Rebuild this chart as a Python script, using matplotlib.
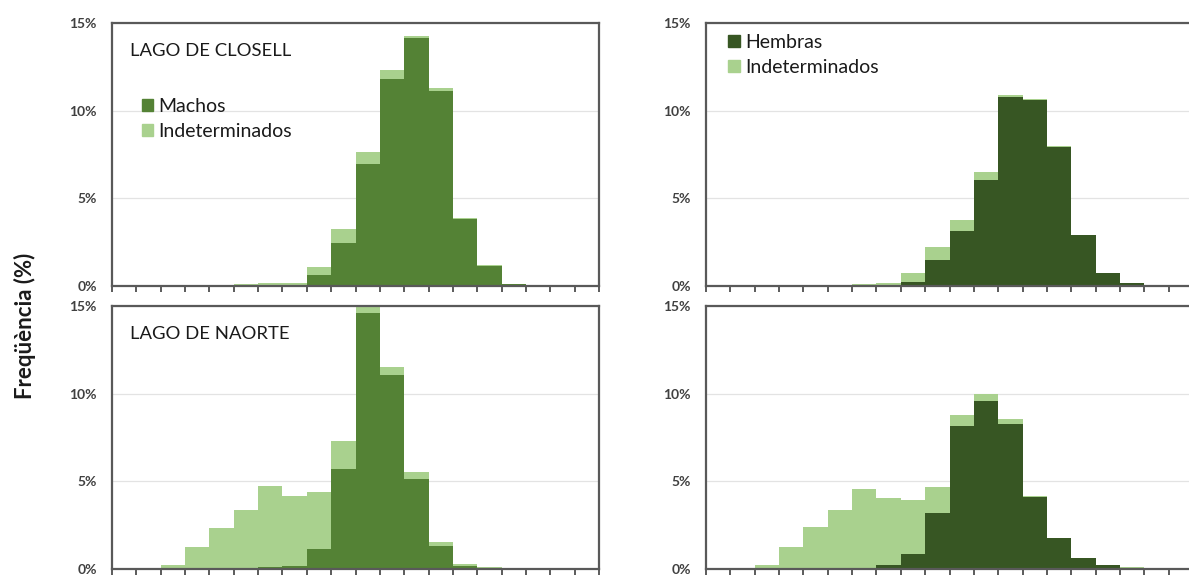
import numpy as np
import matplotlib.pyplot as plt
from matplotlib.patches import Patch

# percentage of individuals per length class (20 classes), stacked: sexed + undetermined
n_bins = 20
closell_machos = [0, 0, 0, 0, 0, 0, 0, 0, 0.63, 2.47, 6.95, 11.8, 14.15, 11.15, 3.82, 1.16, 0.1, 0, 0, 0]
closell_machos_ind = [0, 0, 0.03, 0.05, 0.05, 0.1, 0.15, 0.15, 0.47, 0.76, 0.7, 0.5, 0.1, 0.15, 0.03, 0.04, 0.02, 0, 0, 0]

closell_hembras = [0, 0, 0, 0, 0, 0, 0, 0, 0.2, 1.5, 3.12, 6.02, 10.8, 10.6, 7.95, 2.9, 0.72, 0.15, 0.05, 0]
closell_hembras_ind = [0, 0, 0, 0.05, 0.05, 0.05, 0.1, 0.15, 0.52, 0.73, 0.63, 0.46, 0.1, 0.06, 0.05, 0, 0, 0, 0, 0]

naorte_machos = [0, 0, 0, 0, 0, 0.02, 0.1, 0.19, 1.14, 5.7, 14.58, 11.07, 5.15, 1.29, 0.19, 0.05, 0.02, 0, 0, 0]
naorte_machos_ind = [0, 0, 0.21, 1.23, 2.33, 3.36, 4.61, 3.99, 3.26, 1.61, 0.42, 0.47, 0.41, 0.23, 0.11, 0.05, 0.05, 0.03, 0.02, 0]

naorte_hembras = [0, 0, 0, 0, 0, 0, 0.02, 0.23, 0.85, 3.19, 8.16, 9.59, 8.26, 4.12, 1.76, 0.6, 0.22, 0.05, 0.02, 0.03]
naorte_hembras_ind = [0, 0, 0.25, 1.27, 2.37, 3.36, 4.54, 3.8, 3.1, 1.5, 0.61, 0.38, 0.28, 0.06, 0.02, 0.05, 0.03, 0.05, 0.01, 0.02]

y_ticks = [0, 5, 10, 15]
y_tick_labels = ['0%', '5%', '10%', '15%']

c_machos = '#548235'
c_hembras = '#375623'
c_ind = '#a9d18e'

plt.rcParams['font.family'] = ['Lato', 'DejaVu Sans']

W, H = 1189, 575
fig = plt.figure(figsize=(W / 100, H / 100), dpi=100)

def px_axes(x0, y0, x1, y1):
    # pixel box (top-left origin) -> figure axes
    return fig.add_axes([x0 / W, 1 - y1 / H, (x1 - x0) / W, (y1 - y0) / H])

panels = [
    ((112, 23, 599, 286), closell_machos, closell_machos_ind, c_machos, 'Machos', 'LAGO DE CLOSELL'),
    ((706, 23, 1193, 286), closell_hembras, closell_hembras_ind, c_hembras, 'Hembras', None),
    ((112, 306, 599, 569), naorte_machos, naorte_machos_ind, c_machos, None, 'LAGO DE NAORTE'),
    ((706, 306, 1193, 569), naorte_hembras, naorte_hembras_ind, c_hembras, None, None),
]

x = np.arange(n_bins)
for box, sexed, ind, col, sex_label, title in panels:
    ax = px_axes(*box)
    ax.bar(x, sexed, width=1.0, align='edge', color=col, linewidth=0, zorder=2)
    ax.bar(x, ind, width=1.0, align='edge', bottom=sexed, color=c_ind, linewidth=0, zorder=2)
    ax.set_xlim(0, n_bins)
    ax.set_ylim(0, 15)
    ax.set_xticks(np.arange(n_bins + 1))
    ax.set_xticklabels([])
    ax.set_yticks(y_ticks)
    ax.set_yticklabels(y_tick_labels)
    ax.tick_params(axis='x', direction='out', length=4, width=1.2, color='#404040')
    ax.tick_params(axis='y', length=0, pad=11, labelsize=10, labelcolor='#404040')
    for lbl in ax.get_yticklabels():
        lbl.set_fontweight('bold')
    ax.grid(axis='y', color='#e3e3e3', linewidth=0.9, zorder=0)
    for s in ax.spines.values():
        s.set_color('#595959')
        s.set_linewidth(1.6)
        s.set_zorder(3)

    if title:
        ax.text(0.037, 0.895, title, transform=ax.transAxes, fontsize=13.3,
                color='#1a1a1a', va='center', ha='left')
    if sex_label:
        handles = [Patch(color=col, label=sex_label), Patch(color=c_ind, label='Indeterminados')]
        anchor = (0.061, 0.715) if title else (0.046, 0.958)
        ax.legend(handles=handles, loc='upper left', bbox_to_anchor=anchor, frameon=False,
                  fontsize=14, handlelength=0.6, handleheight=0.6, handletextpad=0.25,
                  labelspacing=0.4, borderpad=0, borderaxespad=0, labelcolor='#1a1a1a')

fig.text(25 / W, 1 - 326 / H, 'Freqüència (%)', rotation=90, ha='center', va='center',
         fontsize=16, fontweight='bold', color='#1a1a1a')

fig.savefig('out.png', dpi=100)
